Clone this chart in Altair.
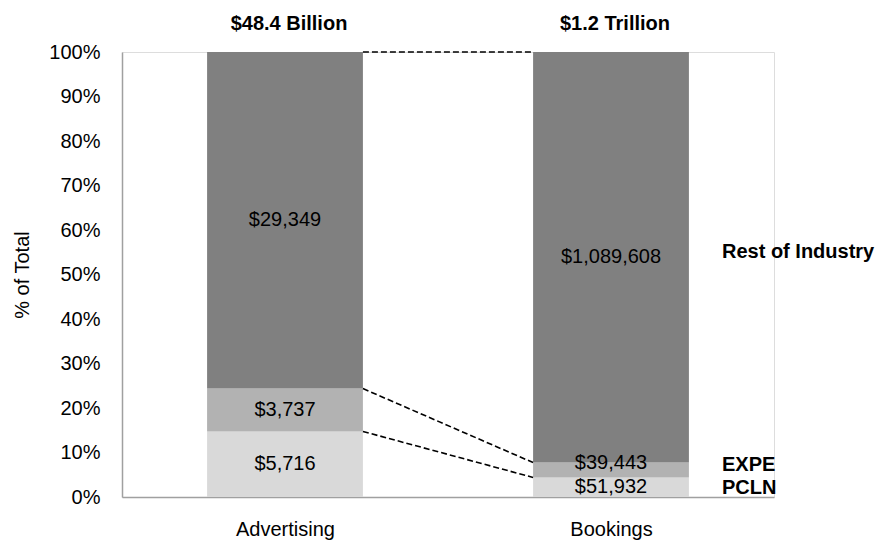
import altair as alt
import pandas as pd

# Revenue pools (in $ millions) split by company
categories = ["Advertising", "Bookings"]
totals_text = ["$48.4 Billion", "$1.2 Trillion"]
segments = ["PCLN", "EXPE", "Rest of Industry"]
advertising = [5716, 3737, 29349]
bookings = [51932, 39443, 1089608]

colors = ["#d9d9d9", "#b2b2b2", "#808080"]
FONT = "Liberation Sans"
HALF = 0.239  # half bar width in x units (each category spans one unit)

rows = []
for ci, (cat, vals) in enumerate(zip(categories, [advertising, bookings])):
    total = sum(vals)
    cum = 0.0
    for seg, v in zip(segments, vals):
        share = v / total
        rows.append({
            "category": cat,
            "segment": seg,
            "value": v,
            "label": f"${v:,}",
            "xc": ci + 0.5,
            "xl": ci + 0.5 - HALF,
            "xr": ci + 0.5 + HALF,
            "y0": cum,
            "y1": cum + share,
            "ymid": cum + share / 2,
        })
        cum += share
df = pd.DataFrame(rows)

# connectors between the top edges of matching segments
adv = df[df.category == categories[0]].reset_index(drop=True)
bk = df[df.category == categories[1]].reset_index(drop=True)
conn = pd.DataFrame({
    "x": adv["xr"], "y": adv["y1"],
    "x2": bk["xl"], "y2": bk["y1"],
})

titles = pd.DataFrame({"xc": [0.5, 1.5], "text": totals_text})

xscale = alt.Scale(domain=[0, 2], nice=False, zero=False)
yscale = alt.Scale(domain=[0, 1], nice=False)

label_expr = " : ".join(
    [f"datum.value == {i + 0.5} ? '{c}'" for i, c in enumerate(categories)]
) + " : ''"

bars = alt.Chart(df).mark_bar(stroke=None).encode(
    x=alt.X("xl:Q", scale=xscale, axis=alt.Axis(
        values=[0.5, 1.5], labelExpr=label_expr, title=None, ticks=False,
        grid=False, domainColor="#a0a0a0", domainWidth=1.5,
        labelFontSize=20, labelFont=FONT, labelColor="black", labelPadding=22,
    )),
    x2="xr:Q",
    y=alt.Y("y0:Q", scale=yscale, axis=alt.Axis(
        values=[i / 10 for i in range(11)], format=".0%", title="% of Total",
        ticks=False, grid=False, domainColor="#a0a0a0", domainWidth=1.5,
        labelFontSize=20, labelFont=FONT, labelColor="black", labelPadding=22,
        titleFontSize=20, titleFont=FONT, titleFontWeight="normal",
        titleColor="black", titlePadding=16,
    )),
    y2="y1:Q",
    color=alt.Color("segment:N", scale=alt.Scale(domain=segments, range=colors), legend=None),
)

is_small_bk = (alt.datum.category == categories[1]) & (alt.datum.segment == "EXPE")

value_base = alt.Chart(df).mark_text(
    font=FONT, fontSize=20, color="black", baseline="middle"
).encode(
    x=alt.X("xc:Q", scale=xscale),
    y=alt.Y("ymid:Q", scale=yscale),
    text="label:N",
)
values = value_base.transform_filter(~is_small_bk)
values_up = value_base.mark_text(
    font=FONT, fontSize=20, color="black", baseline="middle", dy=-7
).transform_filter(is_small_bk)

lines = alt.Chart(conn).mark_rule(
    color="black", strokeDash=[6, 3], strokeWidth=1.6
).encode(
    x=alt.X("x:Q", scale=xscale),
    y=alt.Y("y:Q", scale=yscale),
    x2="x2:Q",
    y2="y2:Q",
)

heads = alt.Chart(titles).mark_text(
    font=FONT, fontSize=20, fontWeight="bold", color="black", baseline="middle", dx=4
).encode(
    x=alt.X("xc:Q", scale=xscale),
    y=alt.value(-28),
    text="text:N",
)

seg_base = alt.Chart(bk).mark_text(
    font=FONT, fontSize=20, fontWeight="bold", color="black",
    align="left", baseline="middle", dy=-5
).encode(
    x=alt.value(600),
    y=alt.Y("ymid:Q", scale=yscale),
    text="segment:N",
)
seg_labels = seg_base.transform_filter(alt.datum.segment != "PCLN")
seg_pcln = seg_base.mark_text(
    font=FONT, fontSize=20, fontWeight="bold", color="black",
    align="left", baseline="middle", dy=1
).transform_filter(alt.datum.segment == "PCLN")

chart = alt.layer(bars, lines, values, values_up, heads, seg_labels, seg_pcln).properties(
    width=652, height=445,
    autosize=alt.AutoSizeParams(type="none"),
    padding={"left": 122, "top": 52, "right": 113, "bottom": 45},
).configure_view(stroke=None).configure(background="white")

chart.save("out.html", embed_options={"renderer": "svg", "actions": False})
